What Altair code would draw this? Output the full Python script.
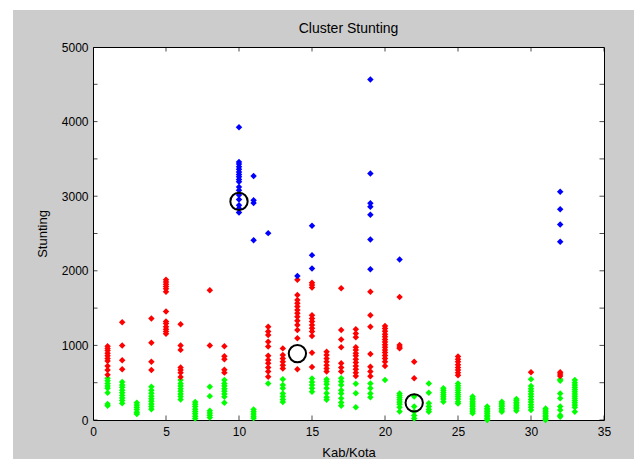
import altair as alt
import pandas as pd

# ---- data (x = Kab/Kota index, values = Stunting) ----
red_cols = {
    1: [990, 960, 930, 895, 860, 825, 790, 725, 670, 605],
    2: [1310, 1000, 800, 680],
    4: [1360, 1035, 780, 670],
    5: [1880, 1850, 1820, 1790, 1760, 1720, 1455, 1320, 1295, 1250, 1215, 1185, 1155],
    6: [1285, 1000, 940, 705, 670, 635, 575],
    8: [1740, 1000],
    9: [990, 855, 815, 675, 635],
    12: [1250, 1185, 1140, 1050, 985, 860, 805, 760, 705, 650, 580],
    13: [960, 870, 825, 780, 735, 690],
    14: [1880, 1675, 1610, 1565, 1520, 1475, 1430, 1385, 1330, 1275, 1205, 1095, 680],
    15: [1840, 1810, 1775, 1405, 1360, 1320, 1275, 1230, 1185, 1125, 900, 710],
    16: [915, 870, 825, 780, 735, 690, 650],
    17: [1765, 1205, 1080, 975, 760, 705, 650],
    18: [1215, 1160, 1110, 975, 940, 895, 860, 815, 770, 725, 680, 635, 590],
    19: [1720, 1405, 1250, 885, 715, 650, 585],
    20: [1260, 1225, 1190, 1150, 1115, 1080, 1045, 1010, 975, 940, 905, 865, 825, 780, 725],
    21: [1650, 1005, 980, 960],
    22: [780, 560],
    25: [850, 815, 780, 740, 705, 670, 635, 600],
    30: [640],
    32: [640, 615, 590],
}

green_cols = {
    1: [560, 525, 490, 455, 425, 365, 215, 190],
    2: [510, 470, 440, 400, 365, 330, 295, 260, 225],
    3: [230, 200, 170, 140, 105, 80],
    4: [445, 400, 360, 320, 285, 250, 215, 180, 145],
    6: [535, 490, 455, 420, 385, 350, 315, 275],
    7: [240, 210, 180, 145, 115, 85, 50, 20],
    8: [445, 320, 125, 95, 65, 35],
    9: [535, 490, 455, 420, 385, 350, 310, 230],
    11: [140, 110, 80, 50, 25],
    12: [490],
    13: [545, 470, 425, 355, 315, 275, 240],
    15: [555, 510, 470, 425, 380],
    16: [545, 515, 480, 425, 360, 305, 270],
    17: [560, 515, 470, 400, 355, 290, 235, 190],
    18: [485, 360, 170],
    19: [490, 425, 355, 305],
    20: [535],
    21: [355, 330, 300, 270, 240, 210, 170, 115],
    22: [315, 180, 110, 60, 20],
    23: [490, 365, 225, 180, 140, 110],
    24: [425, 400, 370, 340, 310, 280, 245],
    25: [490, 460, 430, 400, 370, 340, 310, 280, 245, 220],
    26: [315, 290, 270, 245, 225, 200, 180, 155, 135, 110, 90],
    27: [180, 155, 135, 110, 90, 65, 45, 20, 0],
    28: [245, 225, 200, 180, 155, 135, 110],
    29: [280, 260, 235, 215, 190, 170, 150, 125],
    30: [545, 455, 420, 385, 350, 315, 275, 240, 205, 170, 135],
    31: [155, 135, 110, 90, 65, 45, 20, 0],
    32: [545, 525, 355, 290, 180, 135, 65, 45],
    33: [535, 500, 470, 440, 410, 380, 350, 320, 290, 260, 230, 200, 170, 110],
}

blue_cols = {
    10: [3925, 3460, 3430, 3395, 3360, 3325, 3290, 3260, 3225, 3195, 3125, 3080, 3015, 2955, 2880, 2835, 2780],
    11: [3270, 2945, 2910, 2410],
    12: [2505],
    14: [1930],
    15: [2605, 2210, 2030],
    19: [4565, 3305, 2905, 2860, 2750, 2420, 2020],
    21: [2150],
    32: [3060, 2825, 2620, 2390],
}

centroid_x = [10, 14, 22]
centroid_y = [2930, 890, 230]

x_ticks = [0, 5, 10, 15, 20, 25, 30, 35]
y_ticks = [0, 500, 1000, 1500, 2000, 2500, 3000, 3500, 4000, 4500, 5000]

cluster_names = ["green", "red", "blue"]
cluster_colors = ["#00ff00", "#ff0000", "#0000ff"]

# ---- build tables ----
rows = []
for name, cols in zip(cluster_names, [green_cols, red_cols, blue_cols]):
    for k, vals in cols.items():
        for v in vals:
            rows.append({"kab": k, "stunting": v, "cluster": name, "order": cluster_names.index(name)})
pts = pd.DataFrame(rows)
cent = pd.DataFrame({"kab": centroid_x, "stunting": centroid_y})
xt = pd.DataFrame({"v": x_ticks})
yt = pd.DataFrame({"v": y_ticks})

W, H = 511, 373
FONT = "Liberation Sans"

xscale = alt.Scale(domain=[0, 35], nice=False, zero=False)
yscale = alt.Scale(domain=[0, 5000], nice=False, zero=False)

xaxis = alt.Axis(values=x_ticks, ticks=False, domain=False, grid=False, labelFontSize=12,
                 labelFont=FONT, labelColor="black", labelPadding=6, title="Kab/Kota",
                 titleFont=FONT, titleFontSize=13, titleFontWeight="normal",
                 titleColor="black", titlePadding=9, labelFlush=False, format="d")
yaxis = alt.Axis(values=y_ticks, ticks=False, domain=False, grid=False, labelFontSize=12,
                 labelFont=FONT, labelColor="black", labelPadding=5, title="Stunting",
                 titleFont=FONT, titleFontSize=13, titleFontWeight="normal",
                 titleColor="black", titlePadding=12, labelFlush=False, format="d")

base_rect = pd.DataFrame({"a": [0]})
strip_top = alt.Chart(base_rect).mark_rect(color="white").encode(
    x=alt.value(-93), x2=alt.value(W + 30), y=alt.value(-47), y2=alt.value(-37))
strip_left = alt.Chart(base_rect).mark_rect(color="white").encode(
    x=alt.value(-93), x2=alt.value(-80), y=alt.value(-47), y2=alt.value(H + 39))

points = alt.Chart(pts).mark_point(shape="diamond", filled=True, size=42, opacity=1,
                                   strokeWidth=0.6).encode(
    x=alt.X("kab:Q", scale=xscale, axis=xaxis),
    y=alt.Y("stunting:Q", scale=yscale, axis=yaxis),
    color=alt.Color("cluster:N", scale=alt.Scale(domain=cluster_names, range=cluster_colors), legend=None),
    order=alt.Order("order:Q"),
)

centroids = alt.Chart(cent).mark_point(shape="circle", filled=False, size=300, color="black",
                                       strokeWidth=2, opacity=1).encode(
    x=alt.X("kab:Q", scale=xscale),
    y=alt.Y("stunting:Q", scale=yscale),
)

tick_bottom = alt.Chart(xt).mark_tick(orient="vertical", color="black", size=9, thickness=1, clip=True).encode(
    x=alt.X("v:Q", scale=xscale), y=alt.value(H))
tick_top = alt.Chart(xt).mark_tick(orient="vertical", color="black", size=9, thickness=1, clip=True).encode(
    x=alt.X("v:Q", scale=xscale), y=alt.value(0))
tick_left = alt.Chart(yt).mark_tick(orient="horizontal", color="black", size=9, thickness=1, clip=True).encode(
    y=alt.Y("v:Q", scale=yscale), x=alt.value(0))
tick_right = alt.Chart(yt).mark_tick(orient="horizontal", color="black", size=9, thickness=1, clip=True).encode(
    y=alt.Y("v:Q", scale=yscale), x=alt.value(W))

chart = alt.layer(
    strip_top, strip_left, points, centroids, tick_bottom, tick_top, tick_left, tick_right
).properties(
    width=W, height=H,
    title=alt.TitleParams("Cluster Stunting", font=FONT, fontSize=14, fontWeight="normal",
                          color="black", offset=-36, anchor="middle", frame="group"),
    autosize=alt.AutoSizeParams(type="none"),
    padding={"left": 93, "top": 47, "right": 30, "bottom": 39},
    background="#cccccc",
).configure_view(
    fill="white", stroke="black", strokeWidth=1
)

chart.save("out.html", embed_options={"renderer": "svg", "actions": False})
